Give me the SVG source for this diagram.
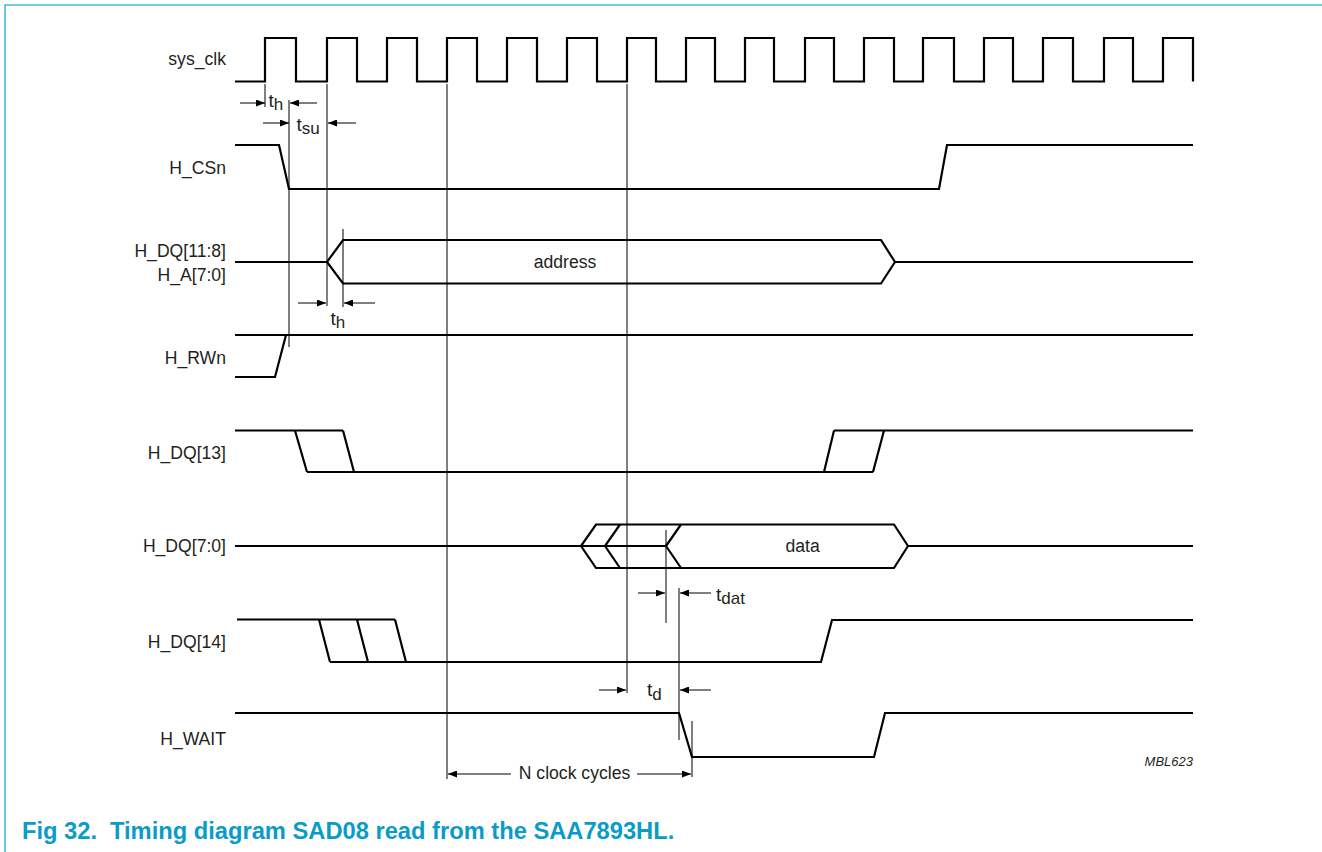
<svg xmlns="http://www.w3.org/2000/svg" width="1322" height="852" viewBox="0 0 1322 852">
<style>
.sig{fill:none;stroke:#000;stroke-width:2.2;stroke-linejoin:miter}
.guide{fill:none;stroke:#000;stroke-width:1}
.arr{fill:none;stroke:#000;stroke-width:1;marker-end:url(#ah)}
.lbl{font-family:"Liberation Sans",Arial,sans-serif;font-size:17.6px;fill:#231f20}
.lr{text-anchor:end}
.tm{font-family:"Liberation Sans",Arial,sans-serif;font-size:19px;fill:#231f20}
.ts{font-size:17px}
.cap{font-family:"Liberation Sans",Arial,sans-serif;font-size:23.7px;font-weight:bold;fill:#0a9bc8}
</style>
<defs>
<marker id="ah" markerUnits="userSpaceOnUse" markerWidth="9" markerHeight="7" refX="9" refY="3.5" orient="auto">
<path d="M0,0 L9,3.5 L0,7 z" fill="#000"/>
</marker>
</defs>
<rect width="1322" height="852" fill="#fff"/>
<path d="M5,852 V5 H1322" fill="none" stroke="#46bcd8" stroke-width="1.6"/>

<g id="sys_clk">
<text class="lbl lr" x="226" y="65">sys_clk</text>
<path class="sig" d="M235,81.5 H265 V38 H296 V81.5 H327 V38 H357 V81.5 H387 V38 H417 V81.5 H447 V38 H477 V81.5 H507 V38 H537 V81.5 H567 V38 H597 V81.5 H627 V38 H656 V81.5 H686 V38 H715 V81.5 H745 V38 H774 V81.5 H805 V38 H834 V81.5 H864 V38 H894 V81.5 H923 V38 H954 V81.5 H984 V38 H1013 V81.5 H1043 V38 H1073 V81.5 H1104 V38 H1133 V81.5 H1163 V38 H1193 V81.5"/>
</g>

<g id="H_CSn">
<text class="lbl lr" x="226" y="174">H_CSn</text>
<path class="sig" d="M235,145 H279 L289,189 H939 L947,145 H1193"/>
</g>

<g id="H_DQ_11_8">
<text class="lbl lr" x="226" y="257">H_DQ[11:8]</text>
<text class="lbl lr" x="226" y="281">H_A[7:0]</text>
<path class="sig" d="M235,262 H327 L343,240 H881 L895,262 H1193 M327,262 L343,283.5 H881 L895,262"/>
<text class="lbl" x="565" y="268" text-anchor="middle">address</text>
</g>

<g id="H_RWn">
<text class="lbl lr" x="226" y="364">H_RWn</text>
<path class="sig" d="M235,335 H1193 M235,377 H275 L286,335"/>
</g>

<g id="H_DQ_13">
<text class="lbl lr" x="226" y="459">H_DQ[13]</text>
<path class="sig" d="M235,430.5 H343 M295,430.5 L307,472 M343,430.5 L354,472 M307,472 H873 M824,472 L834,430.5 M873,472 L884,430.5 M834,430.5 H1193"/>
</g>

<g id="H_DQ_7_0">
<text class="lbl lr" x="226" y="552">H_DQ[7:0]</text>
<path class="sig" d="M235,546 H666 M581,546 L596,524.5 H894 L908,546 H1193 M581,546 L596,568 H894 L908,546 M605,546 L620,524.5 M605,546 L620,568 M666,546 L681,524.5 M666,546 L681,568"/>
<text class="lbl" x="785.5" y="552">data</text>
</g>

<g id="H_DQ_14">
<text class="lbl lr" x="226" y="648">H_DQ[14]</text>
<path class="sig" d="M237,619.5 H395 M319,619.5 L330,662 M357,619.5 L368,662 M395,619.5 L406,662 M330,662 H821 L832,620 H1193"/>
</g>

<g id="H_WAIT">
<text class="lbl lr" x="226" y="745">H_WAIT</text>
<path class="sig" d="M235,713 H679 L692,757 H874 L885,713 H1193"/>
</g>

<g id="connectors">
<path class="guide" d="M265,84 V107 M289,100 V347 M327,84 V306 M343,229 V307 M447,84 V779 M627,84 V693 M666,530 V623 M679,588 V740 M692,721 V777"/>
<path class="arr" d="M240,103 H265"/>
<path class="arr" d="M317,103 H290"/>
<path class="arr" d="M263,123 H289"/>
<path class="arr" d="M356,123 H328"/>
<path class="arr" d="M298,303 H326"/>
<path class="arr" d="M375,303 H344"/>
<path class="arr" d="M638,593 H665"/>
<path class="arr" d="M711,593 H680"/>
<path class="arr" d="M599,690 H626"/>
<path class="arr" d="M711,690 H680"/>
<path class="arr" d="M511,774 H448"/>
<path class="arr" d="M637,774 H691"/>
</g>

<g id="timing-labels">
<text class="tm" x="268.5" y="107">t<tspan class="ts" dy="3">h</tspan></text>
<text class="tm" x="296.5" y="131">t<tspan class="ts" dy="3">su</tspan></text>
<text class="tm" x="330.5" y="325">t<tspan class="ts" dy="3">h</tspan></text>
<text class="tm" x="716" y="601">t<tspan class="ts" dy="3">dat</tspan></text>
<text class="tm" x="647" y="696">t<tspan class="ts" dy="4">d</tspan></text>
<text class="lbl" x="574.5" y="779" text-anchor="middle">N clock cycles</text>
<text class="lbl" x="1193" y="766" text-anchor="end" style="font-size:13px;font-style:italic">MBL623</text>
</g>

<text class="cap" x="22" y="839">Fig 32.<tspan x="110">Timing diagram SAD08 read from the SAA7893HL.</tspan></text>
</svg>
